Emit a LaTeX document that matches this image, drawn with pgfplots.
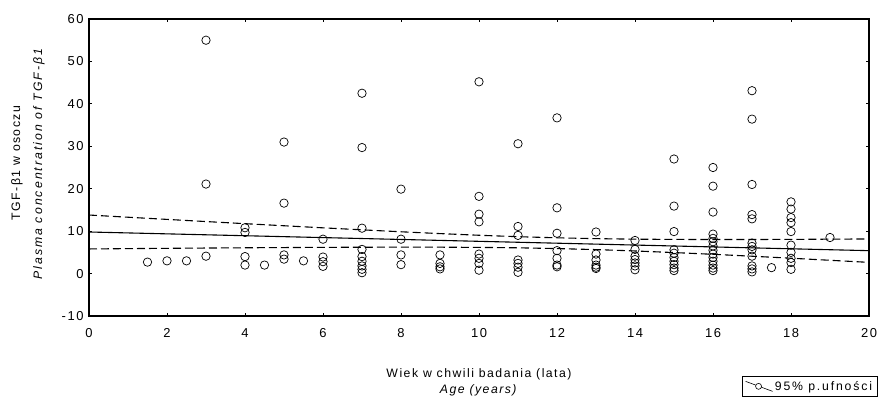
\documentclass[border=0pt]{standalone}
\usepackage{pgfplots}
\pgfplotsset{compat=1.18}
\usepackage{fontspec}
\setmainfont{Liberation Sans}[LetterSpace=12]
\begin{document}
\begin{tikzpicture}
\useasboundingbox (0,0) rectangle (880bp,400bp);
\begin{axis}[
  at={(89bp,84bp)}, anchor=south west,
  scale only axis, width=780bp, height=297bp,
  xmin=0, xmax=20, ymin=-10, ymax=60,
  xtick distance=2, ytick distance=10,
  tick align=inside, major tick length=3bp,
  axis line style={line width=1.4bp},
  tick style={line width=0.8bp, black},
  /pgf/number format/assume math mode=true,
  tick label style={font=\fontsize{13}{15}\selectfont},
  yticklabel style={xshift=-2bp},
  xticklabel style={yshift=-9bp},
  xlabel={Wiek w chwili badania (lata)\\\textit{Age (years)}},
  xlabel style={at={(axis description cs:0.5,-0.224)}, anchor=center, align=center, font=\fontsize{12.3}{15.5}\selectfont},
  ylabel={TGF-β1 w osoczu\\\textit{\addfontfeatures{LetterSpace=17}Plasma concentration of TGF-β1}},
  ylabel style={at={(axis description cs:-0.0782,0.515)}, anchor=center, rotate=0, align=center, font=\fontsize{12.3}{22}\selectfont},
  legend style={at={(axis description cs:0.837,-0.201)}, anchor=north west,
    font=\fontsize{12.3}{13}\selectfont\addfontfeatures{LetterSpace=15}, draw=black, line width=0.8bp,
    inner sep=3bp, legend cell align=left},
  legend image code/.code={
    \draw[black, line width=0.6bp] (4bp,5bp) -- (31bp,-5bp);
    \draw[black, line width=0.6bp, fill=white] (17bp,0bp) circle (3bp);
  },
]
\addplot[only marks, mark=o, mark size=4.2bp, mark options={black, line width=0.7bp}, forget plot] coordinates {
(1.5,2.7) (2,3.0) (2.5,3.0)
(3,55.0) (3,21.1) (3,4.1)
(4,10.8) (4,9.7) (4,4.0) (4,2.0)
(4.5,2.0)
(5,31.0) (5,16.6) (5,4.4) (5,3.4)
(5.5,3.0)
(6,8.1) (6,3.9) (6,2.8) (6,1.7)
(7,42.5) (7,29.7) (7,10.7) (7,5.7) (7,4.0) (7,2.9) (7,1.8) (7,1.0) (7,0.2)
(8,19.9) (8,8.1) (8,4.4) (8,2.1)
(9,4.4) (9,2.4) (9,1.6) (9,1.1)
(10,45.2) (10,18.2) (10,14.0) (10,12.2) (10,4.6) (10,3.6) (10,2.4) (10,0.8)
(11,30.6) (11,11.1) (11,9.0) (11,3.2) (11,2.4) (11,1.5) (11,0.3)
(12,36.7) (12,15.5) (12,9.5) (12,5.4) (12,3.6) (12,2.0) (12,1.6)
(13,9.8) (13,4.6) (13,3.2) (13,2.0) (13,1.5) (13,1.2)
(14,7.8) (14,5.7) (14,4.1) (14,3.3) (14,2.5) (14,1.8) (14,0.9)
(15,27.0) (15,15.9) (15,9.9) (15,5.6) (15,4.8) (15,3.8) (15,2.9) (15,2.1) (15,1.3) (15,0.7)
(16,25.0) (16,20.6) (16,14.5) (16,9.3) (16,8.3) (16,7.5) (16,6.5) (16,5.5) (16,4.6) (16,3.8) (16,2.9) (16,2.0) (16,1.3) (16,0.7)
(17,43.1) (17,36.4) (17,21.0) (17,13.9) (17,12.9) (17,7.2) (17,6.4) (17,5.6) (17,4.1) (17,1.8) (17,1.1) (17,0.4)
(17.5,1.4)
(18,16.9) (18,15.2) (18,13.2) (18,12.0) (18,9.9) (18,6.7) (18,5.0) (18,3.6) (18,2.6) (18,1.0)
(19,8.5)
};
\addplot[black, line width=1.1bp, forget plot] coordinates {(0,9.8) (20,5.4)};
\addplot[black, line width=1.1bp, dash pattern=on 8bp off 4bp, forget plot] coordinates {
(0,13.80) (1,13.28) (2,12.77) (3,12.26) (4,11.76) (5,11.27) (6,10.78) (7,10.31) (8,9.85) (9,9.42) (10,9.03) (11,8.69) (12,8.43) (13,8.23) (14,8.11) (15,8.05) (16,8.02) (17,8.03) (18,8.06) (19,8.11) (20,8.16)
};
\addplot[black, line width=1.1bp, dash pattern=on 8bp off 4bp, forget plot] coordinates {
(0,5.80) (1,5.88) (2,5.95) (3,6.02) (4,6.08) (5,6.13) (6,6.18) (7,6.21) (8,6.23) (9,6.22) (10,6.17) (11,6.07) (12,5.89) (13,5.65) (14,5.33) (15,4.95) (16,4.54) (17,4.09) (18,3.62) (19,3.13) (20,2.64)
};
\addlegendimage{black}
\addlegendentry{95\% p.ufności\hspace{10bp}}
\end{axis}
\end{tikzpicture}
\end{document}
